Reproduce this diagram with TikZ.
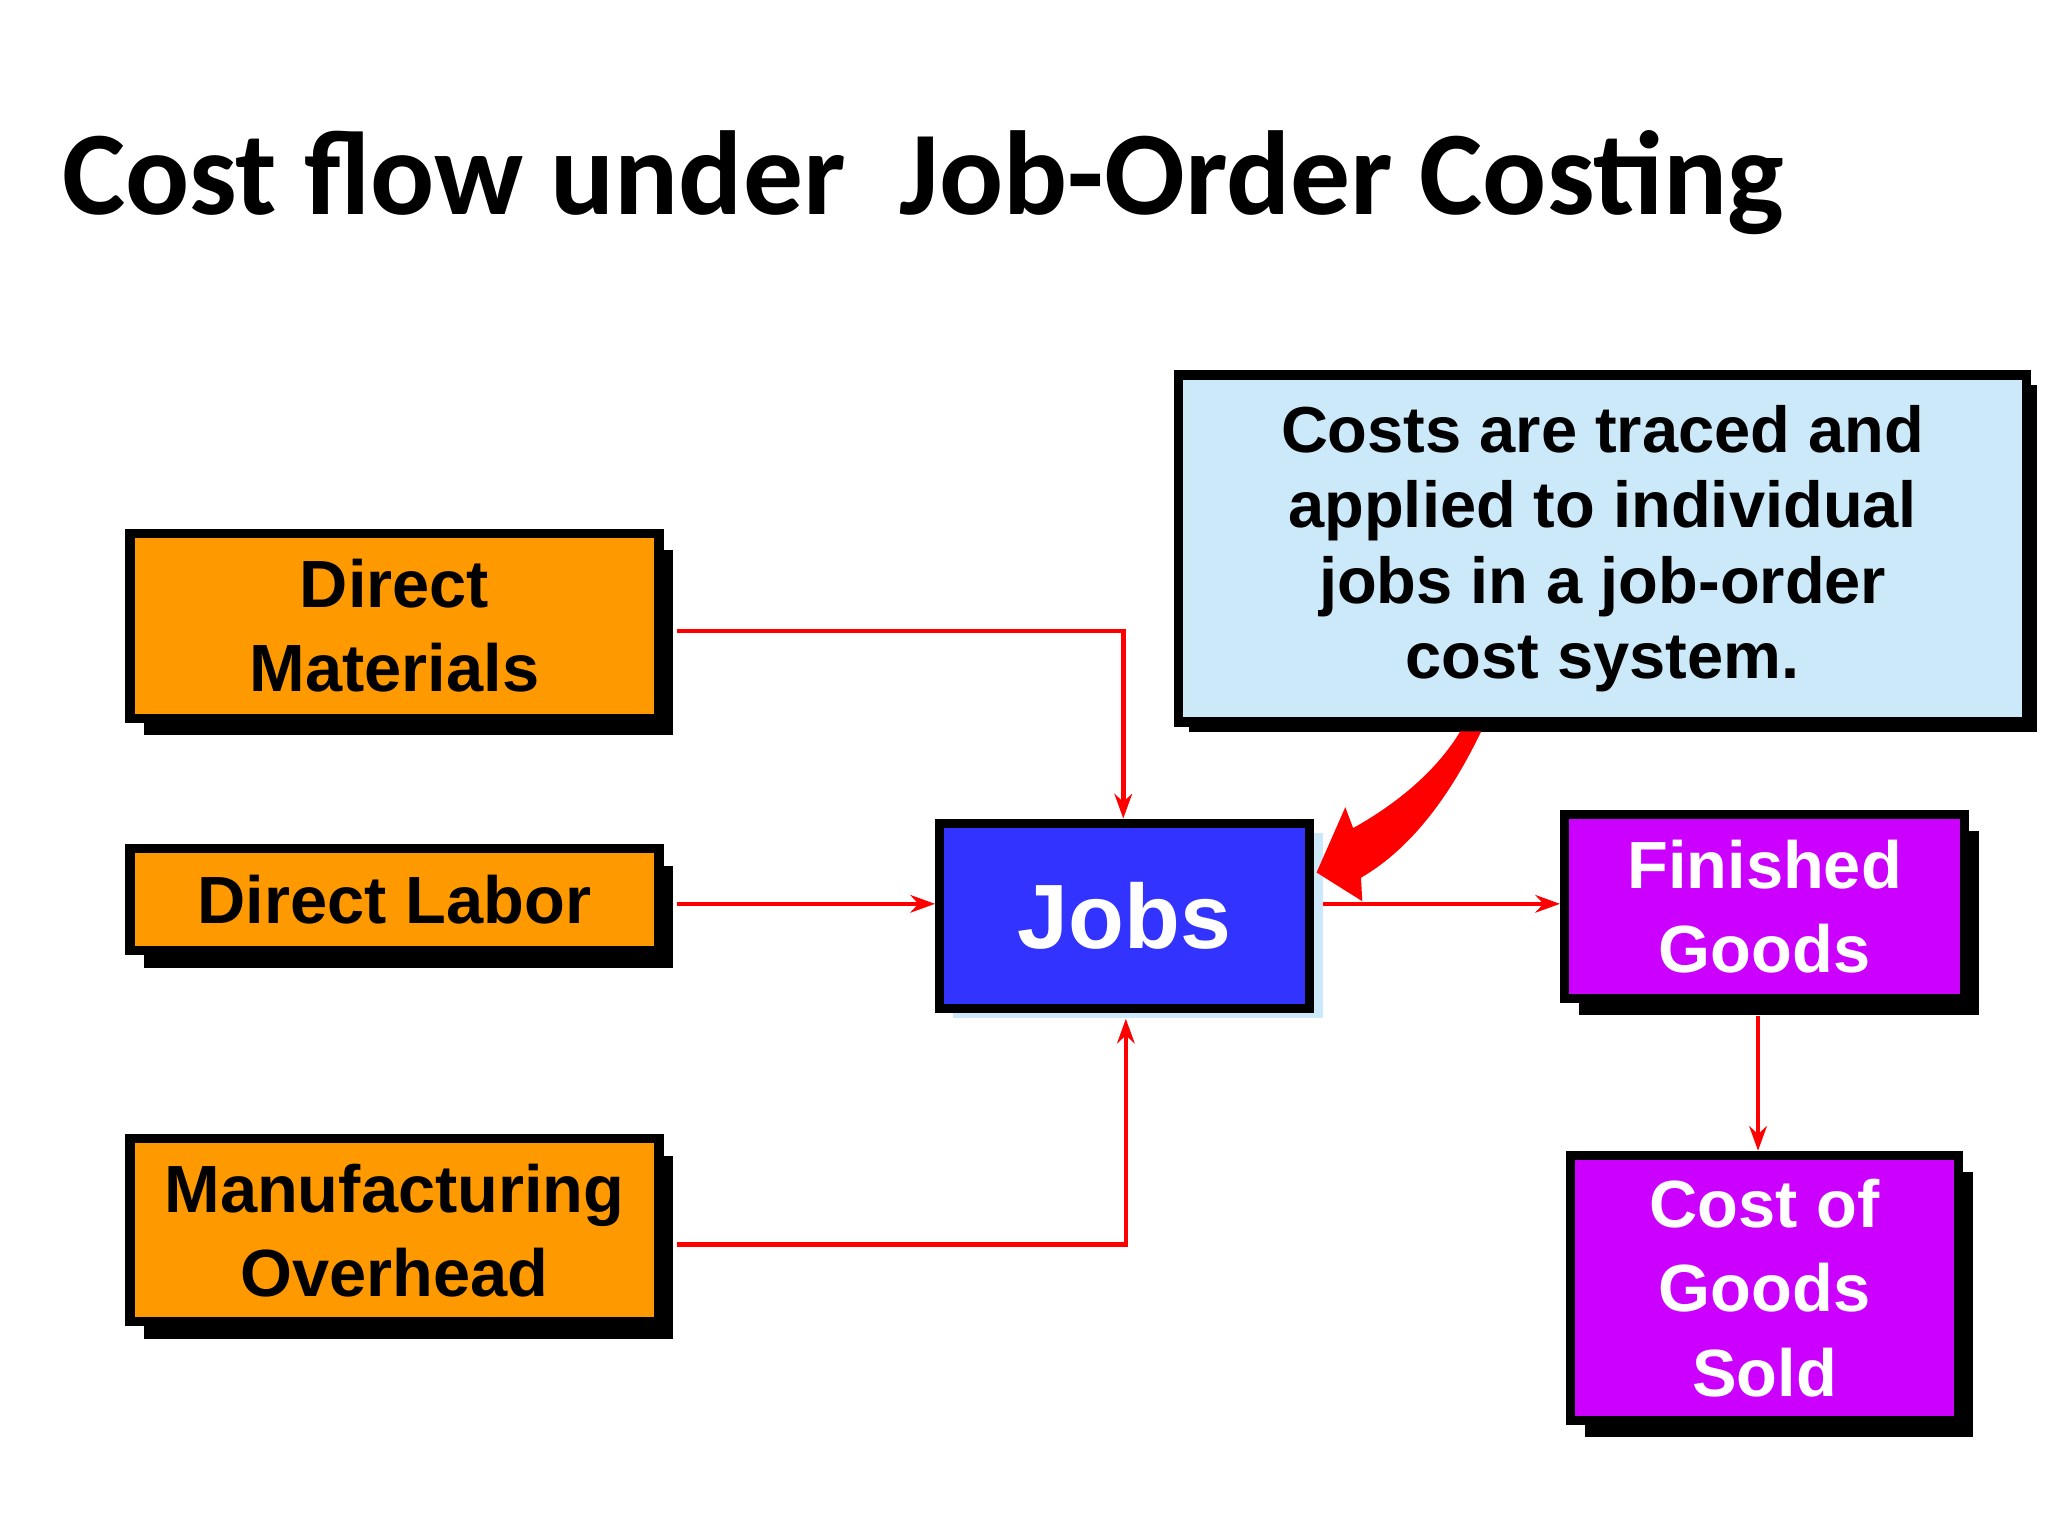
\documentclass[tikz,border=0pt]{standalone}
\usepackage{fontspec}
\setmainfont{Liberation Sans}
\newfontfamily\titlefont{Carlito}
\usetikzlibrary{shadows,arrows.meta}
\definecolor{orng}{HTML}{FF9900}
\definecolor{jobblue}{HTML}{3333FF}
\definecolor{purp}{HTML}{CC00FF}
\definecolor{callbg}{HTML}{CCE9FA}
\tikzset{
 boxbase/.style={draw=black, line width=2.6pt, align=center, inner sep=0pt, font=\bfseries\fontsize{19}{24}\selectfont},
 box/.style={boxbase, drop shadow={shadow xshift=0.14cm, shadow yshift=-0.17cm, fill=black, opacity=1}},
 flow/.style={draw=red, line width=1.3pt, -{Stealth[length=7pt,width=5pt]}}
}
\begin{document}
\begin{tikzpicture}[x=0.01306cm,y=-0.01306cm]
\useasboundingbox[fill=white] (0,0) rectangle (1568,1176);
\node[anchor=west, font=\titlefont\bfseries\fontsize{34}{40}\selectfont] (title) at (38,140) {Cost flow under\ \ Job-Order Costing};
\node[box, fill=orng, minimum width=5.29cm, minimum height=1.85cm] (dm) at (302,479) {Direct\\Materials};
\node[box, fill=orng, minimum width=5.29cm, minimum height=1.02cm] (dl) at (302,689) {Direct Labor};
\node[box, fill=orng, minimum width=5.29cm, minimum height=1.83cm] (mo) at (302,942) {Manufacturing\\Overhead};
\node[boxbase, fill=jobblue, text=white, font=\bfseries\fontsize{26}{32}\selectfont, minimum width=3.7cm, minimum height=1.85cm,
  drop shadow={shadow xshift=0.13cm, shadow yshift=-0.1cm, fill=callbg, opacity=1}] (jobs) at (861,701) {Jobs};
\node[box, fill=purp, text=white, minimum width=4.0cm, minimum height=1.84cm] (fg) at (1351,694) {Finished\\Goods};
\node[box, fill=purp, text=white, minimum width=3.88cm, minimum height=2.65cm] (cogs) at (1351,986) {Cost of\\Goods\\Sold};
\node[boxbase, fill=callbg, minimum width=8.48cm, minimum height=3.47cm, font=\bfseries\fontsize{18.5}{21.5}\selectfont,
  drop shadow={shadow xshift=0.1cm, shadow yshift=-0.1cm, fill=black, opacity=1}] (call) at (1227,420)
  {Costs are traced and\\applied to individual\\jobs in a job-order\\cost system.};
\draw[flow] (518,483) -- (860,483) -- (jobs.north -| 860,0);
\draw[flow] (518,692) -- (jobs.west |- 0,692);
\draw[flow] (518,953) -- (862,953) -- (862,780);
\draw[flow] (1013,692) -- (fg.west |- 0,692);
\draw[flow] (1346,778) -- (cogs.north -| 1346,0);
\fill[red] (1118,560) -- (1134,560) .. controls (1110,610) and (1080,650) .. (1042,672)
  -- (1043,690) -- (1008,668) -- (1030,618) -- (1036,634) .. controls (1070,615) and (1100,590) .. (1118,560) -- cycle;
\end{tikzpicture}
\end{document}
